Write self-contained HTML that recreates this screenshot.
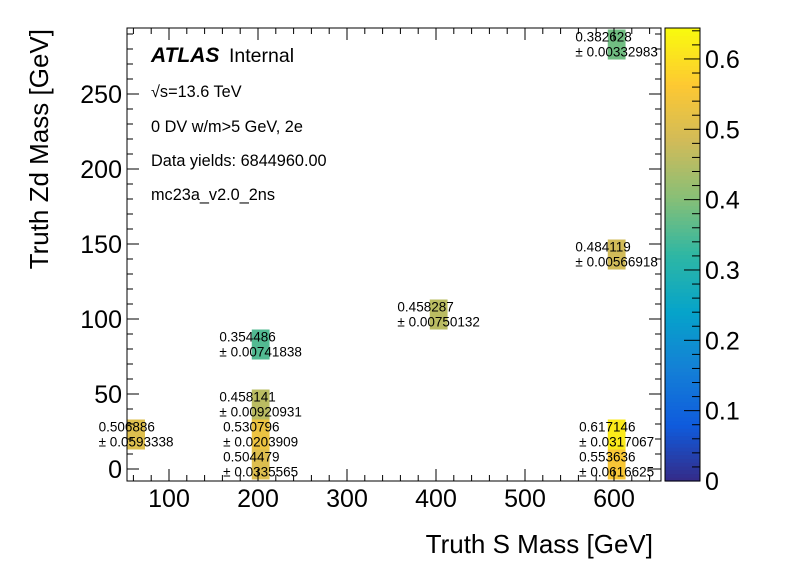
<!DOCTYPE html>
<html><head><meta charset="utf-8"><style>
body{margin:0;background:#fff}
svg text{font-family:"Liberation Sans",sans-serif}
</style></head><body>
<svg id="c" width="796" height="572" xmlns="http://www.w3.org/2000/svg">
<rect width="796" height="572" fill="#fff"/>
<g id="cells"></g>
<g id="axes"></g>
<text x="151" y="62" font-size="21" font-weight="bold" font-style="italic">ATLAS</text>
<text x="229" y="62" font-size="19.5">Internal</text>
<text x="151" y="97" font-size="16.3">√s=13.6 TeV</text>
<text x="151" y="132" font-size="16.3">0 DV w/m&gt;5 GeV, 2e</text>
<text x="151" y="166" font-size="16.3">Data yields: 6844960.00</text>
<text x="151" y="200" font-size="16.3">mc23a_v2.0_2ns</text>
<text x="653" y="553" font-size="26" text-anchor="end">Truth S Mass [GeV]</text>
<text transform="translate(48,29) rotate(-90)" font-size="26" text-anchor="end">Truth Zd Mass [GeV]</text>
</svg>
<script>
const xs=[63,203,203,203,203,403,603,603,603,603];
const ys=[23,3,23,43,83,103,283,143,23,3];
const vals=[0.506886,0.504479,0.530796,0.458141,0.354486,0.458287,0.382628,0.484119,0.617146,0.553636];
const errs=["0.0593338","0.0335565","0.0203909","0.00920931","0.00741838","0.00750132","0.00332983","0.00566918","0.0317067","0.0616625"];
const xTicks=[100,200,300,400,500,600];
const yTicks=[0,50,100,150,200,250];
const zTicks=[0,0.1,0.2,0.3,0.4,0.5,0.6];
const NS="http://www.w3.org/2000/svg";
const L=127,R=661,T=28,B=481;
const px=x=>80+0.89*x, py=y=>469-1.5*y;
const zmax=0.644, pz=z=>B-(z/zmax)*(B-T);
const st=[0,.125,.25,.375,.5,.625,.75,.875,1];
const rr=[.2082,.0592,.0780,.0232,.1802,.5301,.8186,.9956,.9764];
const gg=[.1664,.3599,.5041,.6419,.7178,.7492,.7328,.7862,.9832];
const bb=[.5293,.8684,.8385,.7914,.6425,.4662,.3499,.1968,.0539];
function col(f){f=Math.max(0,Math.min(1,f));let i=0;while(i<7&&f>st[i+1])i++;const t=(f-st[i])/(st[i+1]-st[i]);
const c=a=>Math.round(255*(a[i]+(a[i+1]-a[i])*t));return `rgb(${c(rr)},${c(gg)},${c(bb)})`;}
function mk(tag,at,parent){const e=document.createElementNS(NS,tag);for(const k in at)e.setAttribute(k,at[k]);parent.appendChild(e);return e;}
const cg=document.getElementById('cells'),ag=document.getElementById('axes');
vals.forEach((v,i)=>{
 const x0=Math.max(L,px(xs[i]-10)),x1=Math.min(R,px(xs[i]+10));
 const y0=Math.max(T,py(ys[i]+10)),y1=Math.min(B,py(ys[i]-10));
 const r=mk('rect',{x:x0,y:y0,width:x1-x0,height:y1-y0,fill:col(v/zmax)},cg);
 
 
 const cx=px(xs[i]),cy=py(ys[i]);
 const t2=mk('text',{x:cx,y:cy+12,'font-size':13.5},cg);t2.textContent='± '+errs[i];
 
 
 const w=t2.getComputedTextLength();
 t2.setAttribute('x',cx-w/2);
 const t1=mk('text',{x:cx-w/2,y:cy-3,'font-size':13.5},cg);t1.textContent=String(v);
 
 
});
const fr=mk('rect',{x:L,y:T,width:R-L,height:B-T,fill:'none',stroke:'#000','stroke-width':1},ag);


for(let x=60;x<=650;x+=20){const X=px(x);if(X<L||X>R)continue;const len=x%100===0?12:6;
 mk('line',{x1:X,x2:X,y1:B,y2:B-len,stroke:'#000'},ag);mk('line',{x1:X,x2:X,y1:T,y2:T+len,stroke:'#000'},ag);}
for(let y=-10;y<=300;y+=10){const Y=py(y);if(Y<T||Y>B)continue;const len=y%50===0?12:6;
 mk('line',{x1:L,x2:L+len,y1:Y,y2:Y,stroke:'#000'},ag);mk('line',{x1:R,x2:R-len,y1:Y,y2:Y,stroke:'#000'},ag);}
xTicks.forEach(v=>{const t=mk('text',{x:px(v),y:507,'font-size':25,'text-anchor':'middle'},ag);t.textContent=v;
 
 });
yTicks.forEach(v=>{const t=mk('text',{x:122,y:py(v)+9,'font-size':25,'text-anchor':'end'},ag);t.textContent=v;
 
 });
const n=120;for(let k=0;k<n;k++){const y0=B-(k+1)*(B-T)/n;mk('rect',{x:665,y:y0,width:35,height:(B-T)/n+0.6,fill:col((k+0.5)/n)},ag);}
const cb=mk('rect',{x:665,y:T,width:35,height:B-T,fill:'none',stroke:'#000'},ag);


zTicks.forEach(v=>{const Y=pz(v);mk('line',{x1:700,x2:684,y1:Y,y2:Y,stroke:'#000'},ag);
 const t=mk('text',{x:705,y:Y+9,'font-size':25},ag);t.textContent=v;
 
 });
for(let v=0.02;v<zmax;v+=0.02){if(Math.abs(v*10-Math.round(v*10))<1e-6)continue;const Y=pz(v);mk('line',{x1:700,x2:692,y1:Y,y2:Y,stroke:'#000'},ag);}
</script>
</body></html>
